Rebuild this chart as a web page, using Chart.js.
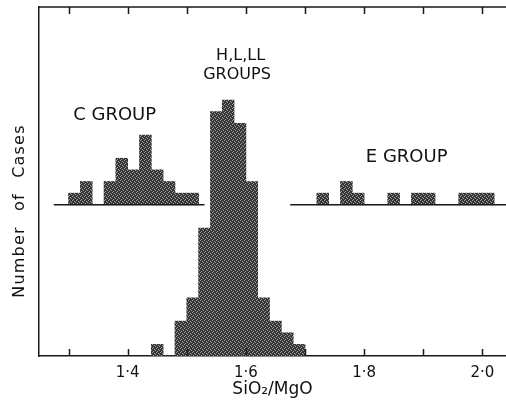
<!DOCTYPE html>
<html>
<head>
<meta charset="utf-8">
<script src="https://cdn.jsdelivr.net/npm/chart.js@4.4.0/dist/chart.umd.min.js"></script>
<style>
  html, body { margin: 0; padding: 0; background: #fff; }
</style>
</head>
<body>
<canvas id="histChart" width="506" height="412"></canvas>
<script>
// histogram bins are 0.02 wide, start values are left bin edges
const binWidth = 0.02;
const cStart = 1.30;
const cCounts = [1, 2, 0, 2, 4, 3, 6, 3, 2, 1, 1];
const hllStart = 1.44;
const hllCounts = [1, 0, 3, 5, 11, 21, 22, 20, 15, 5, 3, 2, 1];
const eStart = 1.72;
const eCounts = [1, 0, 2, 1, 0, 0, 1, 0, 1, 1, 0, 0, 1, 1, 1];
const upperBase = 13; // C and E groups sit on a raised baseline
const cBaseline = [1.275, 1.53];
const eBaseline = [1.675, 2.04];
const tickValues = [1.3, 1.4, 1.5, 1.6, 1.7, 1.8, 1.9, 2.0];
const tickLabels = ['', '1·4', '', '1·6', '', '1·8', '', '2·0'];

const groupLabels = [
  { text: 'C GROUP', x: 1.378, y: 20.7, size: 18 },
  { text: 'H,L,LL', x: 1.591, y: 25.8, size: 16 },
  { text: 'GROUPS', x: 1.585, y: 24.2, size: 16 },
  { text: 'E GROUP', x: 1.872, y: 17.1, size: 18 },
];

const toBars = (start, counts, base) =>
  counts.map((n, i) => ({ x: +(start + binWidth * (i + 0.5)).toFixed(3), y: [base, base + n] }));

const canvas = document.getElementById('histChart');
const ctx = canvas.getContext('2d');

// grainy grey fill like the printed stipple
const tile = document.createElement('canvas');
tile.width = tile.height = 4;
const tg = tile.getContext('2d');
tg.fillStyle = '#353535';
tg.fillRect(0, 0, 4, 4);
tg.fillStyle = '#a0a0a0';
[[0, 0], [2, 1], [1, 3], [3, 2]].forEach(([x, y]) => tg.fillRect(x, y, 1, 1));
const stipple = ctx.createPattern(tile, 'repeat');

const barStyle = {
  type: 'bar',
  backgroundColor: stipple,
  borderWidth: 0,
  grouped: false,
  barPercentage: 1,
  categoryPercentage: 1,
};
const baseStyle = {
  type: 'line',
  borderColor: '#1a1a1a',
  borderWidth: 1.5,
  pointRadius: 0,
  fill: false,
};

const framePlugin = {
  id: 'frame',
  afterDraw(chart) {
    const { ctx, chartArea: a, scales: { x, y } } = chart;
    ctx.save();
    ctx.strokeStyle = '#1a1a1a';
    ctx.lineWidth = 1.5;
    ctx.beginPath();
    ctx.moveTo(a.left, a.top);
    ctx.lineTo(a.right, a.top);
    tickValues.forEach(v => {
      const px = Math.round(x.getPixelForValue(v)) + 0.5;
      ctx.moveTo(px, a.bottom);
      ctx.lineTo(px, a.bottom - 7);
      ctx.moveTo(px, a.top);
      ctx.lineTo(px, a.top + 7);
    });
    ctx.stroke();

    ctx.fillStyle = '#111';
    ctx.textAlign = 'center';
    ctx.textBaseline = 'middle';
    groupLabels.forEach(l => {
      ctx.font = l.size + 'px "DejaVu Sans"';
      ctx.fillText(l.text, x.getPixelForValue(l.x), y.getPixelForValue(l.y));
    });

    // y title
    ctx.translate(20, 211);
    ctx.rotate(-Math.PI / 2);
    ctx.font = '16px "DejaVu Sans"';
    ctx.letterSpacing = '1.2px';
    ctx.wordSpacing = '9px';
    ctx.fillText('Number of Cases', 0, 0);
    ctx.restore();
  },
};

new Chart(ctx, {
  data: {
    datasets: [
      { ...baseStyle, data: cBaseline.map(v => ({ x: v, y: upperBase })) },
      { ...baseStyle, data: eBaseline.map(v => ({ x: v, y: upperBase })) },
      { ...barStyle, data: toBars(cStart, cCounts, upperBase) },
      { ...barStyle, data: toBars(hllStart, hllCounts, 0) },
      { ...barStyle, data: toBars(eStart, eCounts, upperBase) },
    ],
  },
  options: {
    responsive: false,
    animation: false,
    devicePixelRatio: 1,
    layout: { padding: { top: 7, right: 0, left: 0, bottom: 0 } },
    plugins: {
      legend: { display: false },
      tooltip: { enabled: false },
    },
    scales: {
      x: {
        type: 'linear',
        offset: false,
        min: 1.25,
        max: 2.04,
        afterBuildTicks: s => { s.ticks = tickValues.map(v => ({ value: v })); },
        afterFit: s => { s.height = 56; },
        grid: { display: false, drawTicks: false, offset: false },
        border: { display: true, color: '#1a1a1a', width: 1.5 },
        ticks: {
          autoSkip: false,
          maxRotation: 0,
          padding: 8,
          color: '#111',
          font: { family: 'DejaVu Sans', size: 15 },
          callback: (v, i) => tickLabels[i],
        },
        title: {
          display: true,
          text: 'SiO₂/MgO',
          color: '#111',
          font: { family: 'DejaVu Sans', size: 17 },
          padding: { top: 0, bottom: 12 },
        },
      },
      y: {
        type: 'linear',
        min: 0,
        max: 30,
        afterFit: s => { s.width = 39; },
        grid: { display: false, drawTicks: false },
        border: { display: true, color: '#1a1a1a', width: 1.5 },
        ticks: { display: false },
      },
    },
  },
  plugins: [framePlugin],
});
</script>
</body>
</html>
